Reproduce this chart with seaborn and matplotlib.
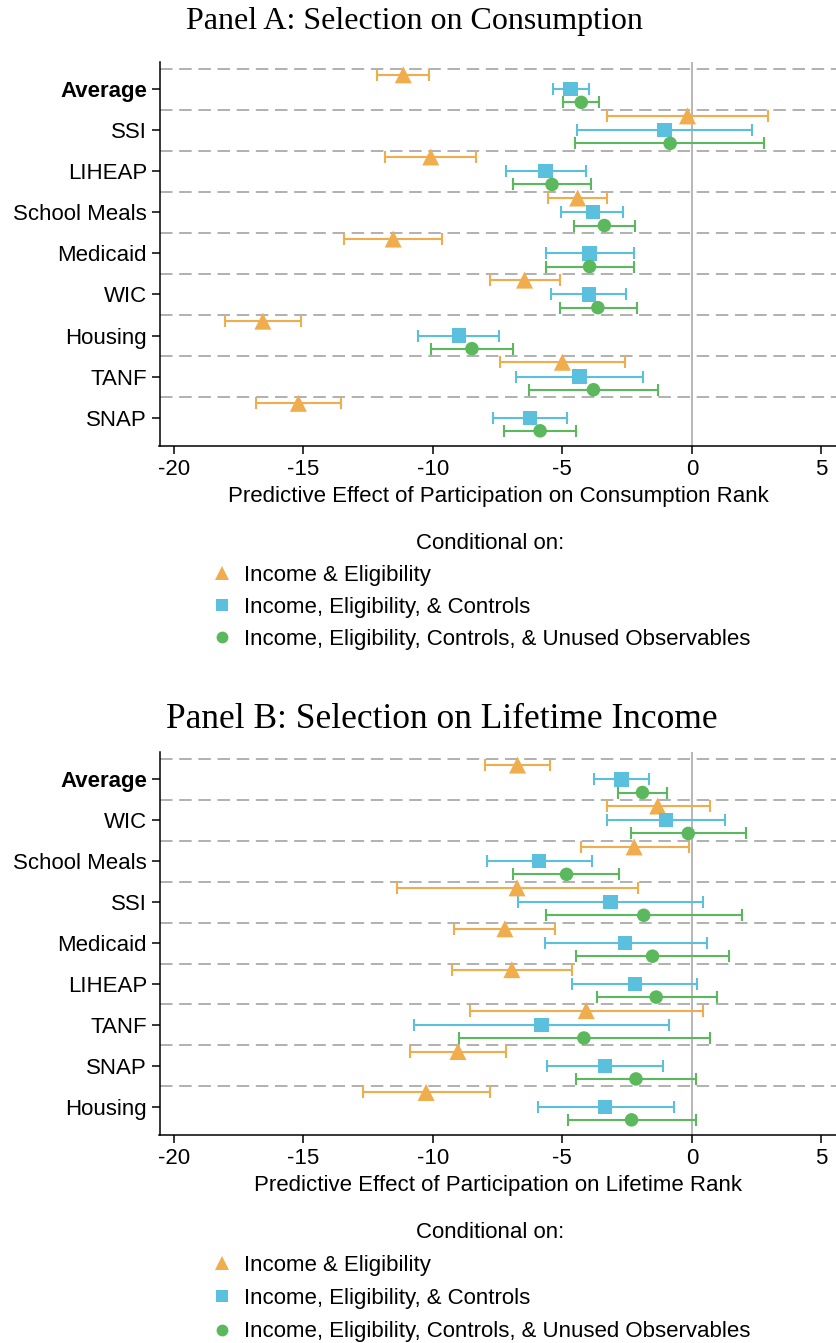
import numpy as np
import pandas as pd
import matplotlib
matplotlib.use("Agg")
import matplotlib.pyplot as plt
import seaborn as sns
from matplotlib.lines import Line2D

sns.set_theme(style="white")
plt.rcParams["font.family"] = ["Liberation Sans", "DejaVu Sans"]
plt.rcParams["axes.unicode_minus"] = False
for key in ["text.color", "axes.labelcolor", "xtick.color", "ytick.color"]:
    plt.rcParams[key] = "black"

# ---- specifications (legend entries) ----
specs = [
    "Income & Eligibility",
    "Income, Eligibility, & Controls",
    "Income, Eligibility, Controls, & Unused Observables",
]
spec_colors = ["#F0AD4E", "#5BC0DE", "#5CB85C"]
spec_markers = ["^", "s", "o"]

# ---- Panel A: selection on consumption ----
programs_a = ["Average", "SSI", "LIHEAP", "School Meals", "Medicaid",
              "WIC", "Housing", "TANF", "SNAP"]
a_inc_est = [-11.14, -0.17, -10.08, -4.41, -11.53, -6.46, -16.56, -5.00, -15.19]
a_inc_lo = [-12.15, -3.29, -11.85, -5.54, -13.43, -7.81, -18.01, -7.41, -16.81]
a_inc_hi = [-10.16, 2.94, -8.34, -3.26, -9.64, -5.11, -15.09, -2.58, -13.55]
a_ctl_est = [-4.69, -1.06, -5.65, -3.83, -3.95, -3.98, -9.00, -4.34, -6.26]
a_ctl_lo = [-5.35, -4.42, -7.17, -5.05, -5.64, -5.43, -10.57, -6.80, -7.68]
a_ctl_hi = [-3.97, 2.31, -4.10, -2.67, -2.24, -2.53, -7.43, -1.89, -4.84]
a_unu_est = [-4.27, -0.84, -5.40, -3.38, -3.95, -3.63, -8.49, -3.80, -5.86]
a_unu_lo = [-4.96, -4.51, -6.89, -4.54, -5.64, -5.11, -10.08, -6.28, -7.27]
a_unu_hi = [-3.59, 2.80, -3.90, -2.18, -2.24, -2.13, -6.90, -1.30, -4.46]

# ---- Panel B: selection on lifetime income ----
programs_b = ["Average", "WIC", "School Meals", "SSI", "Medicaid",
              "LIHEAP", "TANF", "SNAP", "Housing"]
b_inc_est = [-6.73, -1.32, -2.23, -6.75, -7.22, -6.95, -4.08, -9.03, -10.26]
b_inc_lo = [-8.00, -3.27, -4.30, -11.38, -9.18, -9.27, -8.56, -10.87, -12.69]
b_inc_hi = [-5.47, 0.68, -0.12, -2.08, -5.27, -4.62, 0.42, -7.17, -7.80]
b_ctl_est = [-2.72, -1.01, -5.89, -3.14, -2.57, -2.21, -5.81, -3.34, -3.34]
b_ctl_lo = [-3.76, -3.27, -7.92, -6.72, -5.67, -4.61, -10.72, -5.60, -5.96]
b_ctl_hi = [-1.64, 1.27, -3.85, 0.44, 0.59, 0.19, -0.88, -1.10, -0.71]
b_unu_est = [-1.91, -0.14, -4.84, -1.86, -1.52, -1.38, -4.17, -2.16, -2.33]
b_unu_lo = [-2.85, -2.36, -6.89, -5.62, -4.46, -3.68, -9.00, -4.46, -4.78]
b_unu_hi = [-0.96, 2.08, -2.82, 1.94, 1.42, 0.95, 0.69, 0.17, 0.17]

xticks = [-20, -15, -10, -5, 0, 5]

# vertical offset of each specification inside a program's row
offsets = [-0.35, 0.0, 0.32]
marker_sizes = [150, 105, 95]


def build_frame(programs, est, lo, hi):
    rows = []
    for s, spec in enumerate(specs):
        for i, prog in enumerate(programs):
            rows.append(dict(program=prog, spec=spec, est=est[s][i],
                             lo=lo[s][i], hi=hi[s][i], pos=i + offsets[s]))
    return pd.DataFrame(rows)


def draw_panel(ax, programs, df, xlabel):
    n = len(programs)
    for k in range(n):
        ax.axhline(k - 0.5, color="#A3A3A3", lw=1.2, ls=(0, (7.5, 4.0)), zorder=1)
    ax.axvline(0, color="#A3A3A3", lw=1.1, zorder=1)

    for s, spec in enumerate(specs):
        sub = df[df["spec"] == spec]
        ax.errorbar(sub["est"], sub["pos"],
                    xerr=[sub["est"] - sub["lo"], sub["hi"] - sub["est"]],
                    fmt="none", ecolor=spec_colors[s], elinewidth=1.5,
                    capsize=4.0, capthick=1.5, zorder=2)

    sns.scatterplot(data=df, x="est", y="pos", hue="spec", style="spec",
                    size="spec", hue_order=specs, style_order=specs,
                    size_order=specs,
                    palette=dict(zip(specs, spec_colors)),
                    markers=dict(zip(specs, spec_markers)),
                    sizes=dict(zip(specs, marker_sizes)),
                    linewidth=0, legend=False, ax=ax, zorder=3)

    ax.set_xlim(-20.55, 5.6)
    ax.set_ylim(n - 0.31, -0.67)
    ax.set_xticks(xticks)
    ax.set_xticklabels([str(t) for t in xticks], fontsize=16)
    ax.set_yticks(range(n))
    ax.set_yticklabels(programs, fontsize=16)
    ax.get_yticklabels()[0].set_fontweight("bold")
    ax.set_xlabel(xlabel, fontsize=16, labelpad=5)
    ax.set_ylabel("")
    for side in ["top", "right"]:
        ax.spines[side].set_visible(False)
    for side in ["left", "bottom"]:
        ax.spines[side].set_color("black")
        ax.spines[side].set_linewidth(1.1)
    ax.tick_params(axis="both", which="major", length=6, width=1.1,
                   color="black", labelcolor="black", left=True, bottom=True,
                   pad=3)


def add_legend(fig, ax, ytitle, yitems, spacing):
    fig.text(490 / 837, 1 - ytitle / 1343, "Conditional on:", fontsize=16,
             ha="center", va="center", color="black")
    handles = [Line2D([], [], ls="none", marker=m, color=c, markersize=ms,
                      markeredgewidth=0)
               for m, c, ms in zip(spec_markers, spec_colors, [10.5, 8.5, 8.5])]
    leg = ax.legend(handles, specs, loc="upper left",
                    bbox_to_anchor=(211 / 837, 1 - yitems / 1343),
                    bbox_transform=fig.transFigure, frameon=False,
                    fontsize=16, labelspacing=spacing,
                    handletextpad=0.5, handlelength=1.0, borderpad=0,
                    borderaxespad=0)
    for t in leg.get_texts():
        t.set_color("black")
    return leg


fig = plt.figure(figsize=(8.37, 13.43), dpi=100)

ax_a = fig.add_axes([159.5 / 837, 1 - 446 / 1343, (837 - 159.5) / 837, 384.3 / 1343])
ax_b = fig.add_axes([159.5 / 837, 1 - 1135 / 1343, (837 - 159.5) / 837, 383 / 1343])

df_a = build_frame(programs_a,
                   [a_inc_est, a_ctl_est, a_unu_est],
                   [a_inc_lo, a_ctl_lo, a_unu_lo],
                   [a_inc_hi, a_ctl_hi, a_unu_hi])
df_b = build_frame(programs_b,
                   [b_inc_est, b_ctl_est, b_unu_est],
                   [b_inc_lo, b_ctl_lo, b_unu_lo],
                   [b_inc_hi, b_ctl_hi, b_unu_hi])

draw_panel(ax_a, programs_a, df_a, "Predictive Effect of Participation on Consumption Rank")
draw_panel(ax_b, programs_b, df_b, "Predictive Effect of Participation on Lifetime Rank")

add_legend(fig, ax_a, 544, 565, 0.5)
add_legend(fig, ax_b, 1232, 1255, 0.55)

fig.text(414 / 837, 1 - 22 / 1343, "Panel A: Selection on Consumption",
         family="Liberation Serif", fontsize=23, ha="center", va="center",
         color="black")
fig.text(442 / 837, 1 - 719 / 1343, "Panel B: Selection on Lifetime Income",
         family="Liberation Serif", fontsize=25.5, ha="center", va="center",
         color="black")

fig.savefig("out.png", dpi=100)
